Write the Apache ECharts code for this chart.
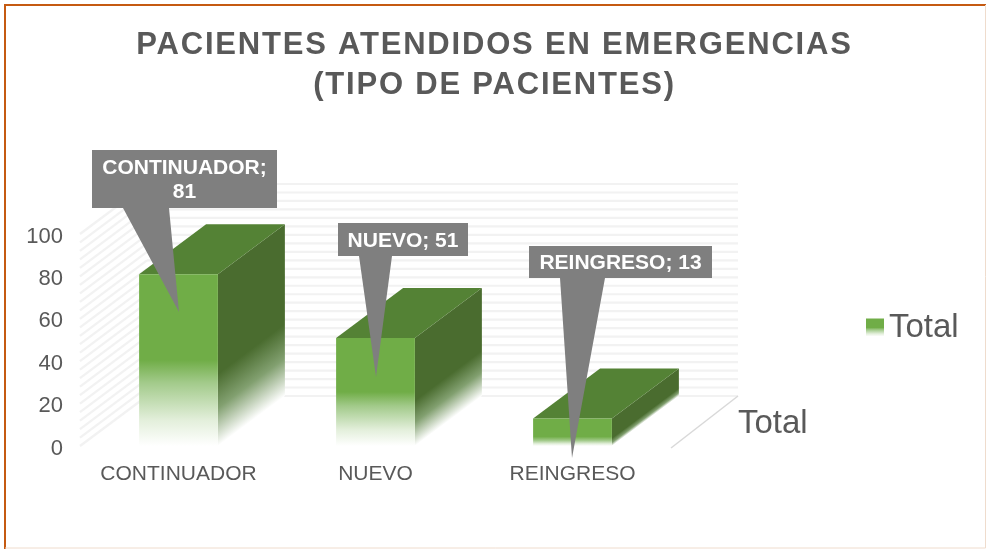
<!DOCTYPE html>
<html><head><meta charset="utf-8">
<script src="https://cdn.jsdelivr.net/npm/echarts@6/dist/echarts.min.js"></script>
<style>html,body{margin:0;padding:0;background:#fff}#c{width:986px;height:549px}</style>
</head><body><div id="c"></div>
<script>
const titleLines = ['PACIENTES ATENDIDOS EN EMERGENCIAS', '(TIPO DE PACIENTES)'];
const categories = ['CONTINUADOR', 'NUEVO', 'REINGRESO'];
const values = [81, 51, 13];
const calloutTexts = ['CONTINUADOR;\n81', 'NUEVO; 51', 'REINGRESO; 13'];
const yTicks = [0, 20, 40, 60, 80, 100];
const wallStripes = [0,4,8,12,16,20,24,28,32,36,40,44,48,52,56,60,64,68,72,76,80,84,88,92,96,100];
const seriesName = 'Total';

// layout only (pixels): callout box [x0,y0,x1,y1], tail base [x0,x1], tip [x,y]
const calloutLayout = [
  {box:[92,150,277,208], tail:[123,169], tip:[179,312]},
  {box:[338,223,468,256], tail:[359,392], tip:[376,377]},
  {box:[529,246,712,278], tail:[560,605], tip:[572,458]}
];
const DX = 67, DY = -50;

// title tracking: ECharts text has no letter spacing option
const proto = CanvasRenderingContext2D.prototype, ft = proto.fillText;
proto.fillText = function(t,x,y,m){
  if (titleLines.includes(t)) { this.letterSpacing='1.8px'; }
  if (m===undefined) ft.call(this,t,x,y); else ft.call(this,t,x,y,m);
  this.letterSpacing='0px';
};

const G = echarts.graphic;
const FRONT='#70ad47', SIDE='#4a6c2f', TOP='#548235';
const frontStops=[[0,FRONT],[.5,FRONT],[.63,'#a2ca8a'],[.85,'#e3efdb'],[1,'#ffffff']];
const shortFrontStops=[[0,FRONT],[.66,FRONT],[.8,'#a2ca8a'],[.92,'#e3efdb'],[1,'#ffffff']];
function stops(a){return a.map(s=>({offset:s[0],color:s[1]}));}

const chart = echarts.init(document.getElementById('c'),null,{renderer:'canvas'});
chart.setOption({
  animation:false,
  backgroundColor:'#ffffff',
  title:{text:titleLines.join('\n'),left:494.5,top:20,textAlign:'center',padding:[5,0,5,0],
    textStyle:{fontFamily:'Liberation Sans',fontWeight:'bold',fontSize:31,lineHeight:40,color:'#595959'}},
  legend:{data:[{name:seriesName,icon:'rect',itemStyle:{color:new G.LinearGradient(0,0,0,1,stops(frontStops))}}],
    left:866,top:311,padding:0,itemWidth:18,itemHeight:18,itemGap:0,selectedMode:false,
    textStyle:{fontFamily:'Liberation Sans',fontSize:33,color:'#595959'}},
  grid:{left:80,right:315,top:234,bottom:103},
  xAxis:{type:'category',data:categories,axisLine:{show:false},axisTick:{show:false},
    axisLabel:{interval:0,margin:18,fontFamily:'Liberation Sans',fontSize:21,color:'#595959'}},
  yAxis:{type:'value',min:0,max:100,interval:20,data:yTicks,axisLine:{show:false},axisTick:{show:false},splitLine:{show:false},
    axisLabel:{margin:17,verticalAlign:'top',lineHeight:5,fontFamily:'Liberation Sans',fontSize:22,color:'#595959'}},
  graphic:[
    {type:'polyline',shape:{points:[[5,549],[5,5],[986,5]]},style:{fill:'none',stroke:'#c55a11',lineWidth:2}},
    {type:'polyline',shape:{points:[[5,548],[985.5,548],[985.5,5]]},style:{fill:'none',stroke:'#efdccd',lineWidth:1}},
    {type:'text',left:738,top:407,style:{text:seriesName,font:'33px "Liberation Sans"',fill:'#595959'}}
  ],
  series:[
    {type:'custom',name:'walls',coordinateSystem:'cartesian2d',silent:true,z:1,
     data:wallStripes.map(v=>[0,v]),encode:{x:0,y:1},clip:false,
     renderItem(p,api){
       const cs=p.coordSys, y=api.coord([0,api.value(1)])[1], x0=cs.x, x1=cs.x+cs.width;
       const st={stroke:'#f2f2f2',lineWidth:2.2,fill:'none'};
       return {type:'group',children:[
         {type:'line',shape:{x1:x0+DX,y1:y+DY,x2:x1+DX,y2:y+DY},style:st},
         {type:'line',shape:{x1:x0,y1:y,x2:x0+DX,y2:y+DY},style:st}
       ]};
     }},
    {type:'custom',name:'floor',coordinateSystem:'cartesian2d',silent:true,z:1,
     data:[[0,0]],encode:{x:0,y:1},clip:false,
     renderItem(p,api){
       const cs=p.coordSys, y=api.coord([0,0])[1], x=cs.x+cs.width;
       return {type:'line',shape:{x1:x,y1:y+2,x2:x+DX,y2:y+DY},style:{stroke:'#d9d9d9',lineWidth:1.5}};
     }},
    {type:'custom',name:seriesName,coordinateSystem:'cartesian2d',silent:true,z:2,
     itemStyle:{color:FRONT},clip:false,
     data:categories.map((c,i)=>[i,values[i]]),encode:{x:0,y:1},
     renderItem(p,api){
       const i=api.value(0), c=api.coord([i,api.value(1)]), b=api.coord([i,0]);
       const w=api.size([1,0])[0]*0.4, xl=c[0]-w/2, xr=c[0]+w/2, yt=c[1], yb=b[1];
       const h=yb-yt, short=h<40;
       // side fade runs along the slanted bottom edge
       const len=Math.hypot(DX,DY), nx=-DY/len, ny=DX/len, d=h*ny;
       const sideFill=new G.LinearGradient(xr,yt,xr+nx*d,yt+ny*d,[
         {offset:0,color:SIDE},{offset:short?.72:.58,color:SIDE},{offset:short?.88:.78,color:'#82a070'},{offset:1,color:'#ffffff'}],true);
       return {type:'group',children:[
         {type:'polygon',shape:{points:[[xr,yt],[xr+DX,yt+DY],[xr+DX,yb+DY],[xr,yb]]},style:{fill:sideFill}},
         {type:'polygon',shape:{points:[[xl,yt],[xl+DX,yt+DY],[xr+DX,yt+DY],[xr,yt]]},style:{fill:TOP}},
         {type:'rect',shape:{x:xl,y:yt,width:w,height:h},style:{fill:new G.LinearGradient(0,0,0,1,stops(short?shortFrontStops:frontStops))}}
       ]};
     }},
    {type:'custom',name:'callouts',coordinateSystem:'cartesian2d',silent:true,z:5,clip:false,
     data:categories.map((c,i)=>[i,values[i]]),encode:{x:0,y:1},
     renderItem(p,api){
       const L=calloutLayout[p.dataIndex], [a,b,c,d]=L.box;
       return {type:'group',children:[
         {type:'polygon',shape:{points:[[a,b],[c,b],[c,d],[L.tail[1],d],L.tip,[L.tail[0],d],[a,d]]},style:{fill:'#7f7f7f'}},
         {type:'text',style:{text:calloutTexts[p.dataIndex],x:(a+c)/2,y:(b+d)/2+1.5,align:'center',verticalAlign:'middle',
           font:'bold 21px "Liberation Sans"',lineHeight:24,fill:'#ffffff'}}
       ]};
     }}
  ]
});
</script></body></html>
